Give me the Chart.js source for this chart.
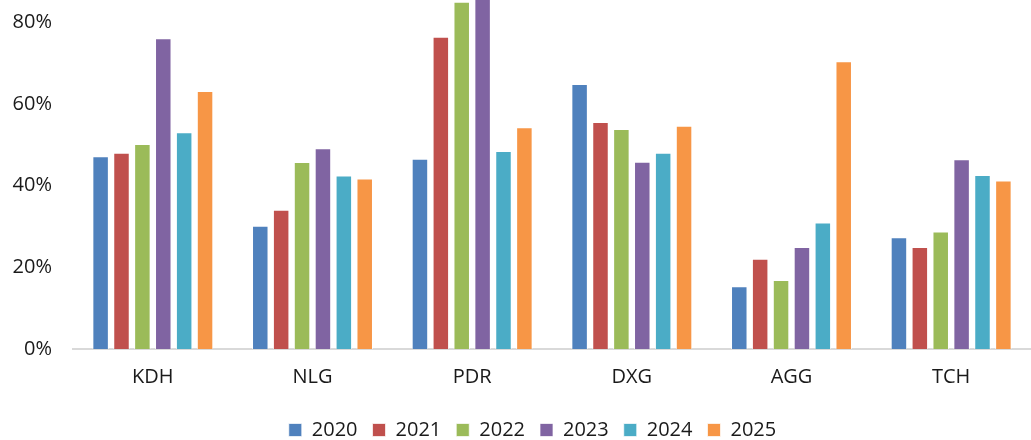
<!DOCTYPE html>
<html lang="en">
<head>
    <meta charset="UTF-8">
    <title>Ratio by ticker 2020-2025</title>
    <script src="https://cdn.jsdelivr.net/npm/chart.js"></script>
    <style>
        body {
            margin: 0;
            background-color: #ffffff;
        }
        .chart-container {
            position: relative;
            width: 1031px;
            height: 440px;
        }
    </style>
</head>
<body>
    <div class="chart-container">
        <canvas id="barChart"></canvas>
    </div>
    <script>
        const tickers = ["KDH", "NLG", "PDR", "DXG", "AGG", "TCH"];
        const years = ["2020", "2021", "2022", "2023", "2024", "2025"];
        const yearColors = ["#4F81BD", "#C0504D", "#9BBB59", "#8064A2", "#4BACC6", "#F79646"];
        const yTicks = [0, 20, 40, 60, 80];
        const yMax = 85.5;

        // values in %
        const values2020 = [47.2, 30.2, 46.6, 64.9, 15.4, 27.4];
        const values2021 = [48.1, 34.1, 76.5, 55.6, 22.1, 25.0];
        const values2022 = [50.2, 45.8, 85.1, 53.9, 16.9, 28.8];
        const values2023 = [76.1, 49.2, 88.0, 45.9, 25.0, 46.5];
        const values2024 = [53.1, 42.5, 48.5, 48.1, 31.0, 42.6];
        const values2025 = [63.2, 41.8, 54.3, 54.7, 70.5, 41.3];
        const allValues = [values2020, values2021, values2022, values2023, values2024, values2025];

        const fontFamily = "'Open Sans', 'Noto Sans', sans-serif";
        Chart.defaults.font.family = fontFamily;
        Chart.defaults.color = "#1a1a1a";

        const datasets = years.map((year, i) => ({
            label: year,
            data: allValues[i],
            backgroundColor: yearColors[i],
            borderColor: "rgba(255,255,255,0.7)",
            borderWidth: 1,
            categoryPercentage: 0.785,
            barPercentage: 0.79
        }));

        // nudge the legend a bit to the right, like the original
        const legendShift = {
            id: "legendShift",
            afterLayout(chart) {
                if (chart.legend) {
                    chart.legend.left += 17;
                    chart.legend.right += 17;
                }
            }
        };

        new Chart(document.getElementById("barChart").getContext("2d"), {
            type: "bar",
            data: {
                labels: tickers,
                datasets: datasets
            },
            options: {
                responsive: true,
                maintainAspectRatio: false,
                animation: false,
                layout: {
                    autoPadding: false,
                    padding: { top: 0, right: 0, bottom: -10, left: 0 }
                },
                plugins: {
                    legend: {
                        position: "bottom",
                        labels: {
                            boxWidth: 13,
                            boxHeight: 13,
                            padding: 15,
                            font: { size: 20 }
                        }
                    },
                    tooltip: { enabled: false }
                },
                scales: {
                    x: {
                        grid: { display: false, drawTicks: false },
                        border: { color: "#d9d9d9", width: 2 },
                        ticks: {
                            font: { size: 20 },
                            padding: 16
                        },
                        afterFit: scale => {
                            scale.height = 56;
                            scale.paddingLeft = 0;
                            scale.paddingRight = 0;
                        }
                    },
                    y: {
                        min: 0,
                        max: yMax,
                        grid: { display: false, drawTicks: false },
                        border: { display: false },
                        ticks: {
                            padding: 21,
                            font: { size: 20 },
                            callback: v => v + "%"
                        },
                        afterBuildTicks: scale => {
                            scale.ticks = yTicks.map(v => ({ value: v }));
                        },
                        afterFit: scale => {
                            scale.width = 73;
                            scale.paddingTop = 0;
                            scale.paddingBottom = 0;
                        }
                    }
                }
            },
            plugins: [legendShift]
        });
    </script>
</body>
</html>
